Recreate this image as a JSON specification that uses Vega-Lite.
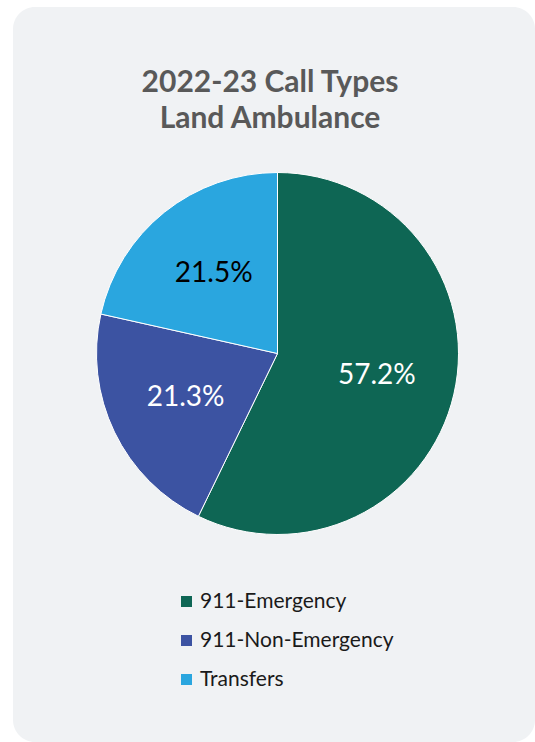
{
  "$schema": "https://vega.github.io/schema/vega-lite/v6.json",
  "width": 535,
  "height": 742,
  "autosize": {"type": "fit", "contains": "padding"},
  "padding": {"left": 13, "top": 7, "right": 0, "bottom": 0},
  "background": "white",
  "view": {"fill": "#f0f2f4", "stroke": null, "cornerRadius": 22},
  "title": {
    "text": ["2022-23 Call Types", "Land Ambulance"],
    "orient": "top",
    "anchor": "middle",
    "baseline": "alphabetic",
    "offset": -151,
    "font": "Lato",
    "fontSize": 30,
    "fontWeight": "bold",
    "color": "#595959",
    "lineHeight": 36,
    "dx": -4
  },
  "data": {
    "values": [
      {"type": "911-Emergency", "value": 57.2, "label": "57.2%"},
      {"type": "911-Non-Emergency", "value": 21.3, "label": "21.3%"},
      {"type": "Transfers", "value": 21.5, "label": "21.5%"}
    ]
  },
  "encoding": {
    "theta": {"field": "value", "type": "quantitative", "stack": true},
    "order": {"field": "type", "type": "nominal", "sort": "ascending"}
  },
  "layer": [
    {
      "mark": {"type": "arc", "outerRadius": 181, "stroke": "white", "strokeWidth": 1, "xOffset": 3.5, "yOffset": -21},
      "encoding": {
        "color": {
          "field": "type",
          "type": "nominal",
          "scale": {
            "domain": ["911-Emergency", "911-Non-Emergency", "Transfers"],
            "range": ["#0e6654", "#3c53a2", "#2aa6df"]
          },
          "legend": {
            "title": null,
            "orient": "none",
            "legendX": 163,
            "legendY": 584,
            "direction": "vertical",
            "symbolType": "square",
            "symbolSize": 121,
            "symbolStrokeWidth": 0,
            "labelFont": "Lato",
            "labelFontSize": 21,
            "labelColor": "#1a1a1a",
            "labelOffset": 3,
            "labelLimit": 400,
            "rowPadding": 17,
            "padding": 0
          }
        }
      }
    },
    {
      "mark": {"type": "text", "radius": 102, "font": "Lato", "fontSize": 28, "xOffset": 3.5, "yOffset": -21},
      "encoding": {
        "detail": {"field": "type", "type": "nominal"},
        "text": {"field": "label", "type": "nominal"},
        "color": {
          "condition": {"test": "datum.type === 'Transfers'", "value": "#000000"},
          "value": "#ffffff"
        }
      }
    }
  ]
}
